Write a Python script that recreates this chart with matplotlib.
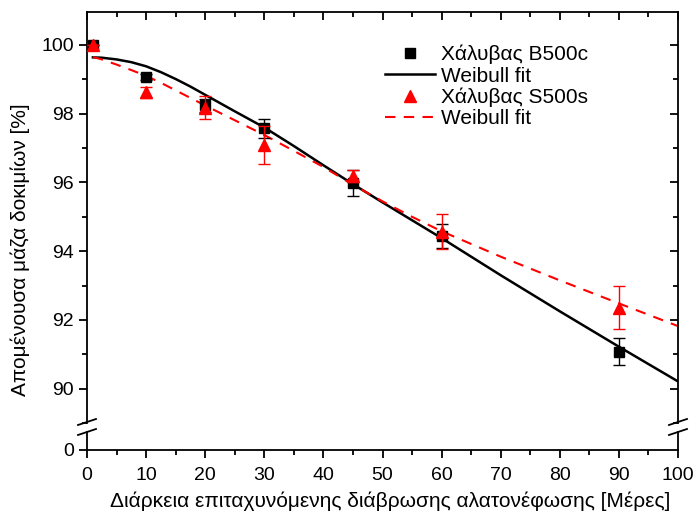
import matplotlib
matplotlib.use("Agg")
import matplotlib.pyplot as plt
from matplotlib.lines import Line2D
from matplotlib.ticker import MultipleLocator, FixedLocator

plt.rcParams['font.family'] = ['Liberation Sans', 'DejaVu Sans']

# ---- data ----
days = [1, 10, 20, 30, 45, 60, 90]
b500c = [100.0, 99.07, 98.24, 97.57, 95.98, 94.43, 91.08]
b500c_err = [0.0, 0.08, 0.2, 0.28, 0.38, 0.35, 0.39]
s500s = [100.0, 98.62, 98.18, 97.09, 96.18, 94.57, 92.36]
s500s_err = [0.0, 0.16, 0.34, 0.55, 0.18, 0.52, 0.63]

fit_x = [1, 2.5, 5, 7.5, 10, 12.5, 15, 17.5, 20, 25, 30, 35, 40, 45, 50, 55, 60, 70, 80, 90, 100]
fit_b500c = [99.64, 99.63, 99.58, 99.5, 99.38, 99.21, 99.01, 98.79, 98.55, 98.07, 97.6,
             97.06, 96.5, 95.95, 95.42, 94.9, 94.38, 93.3, 92.25, 91.22, 90.21]
fit_s500s = [99.65, 99.58, 99.43, 99.27, 99.1, 98.9, 98.68, 98.46, 98.24, 97.81, 97.38,
             96.92, 96.45, 95.93, 95.45, 95.0, 94.58, 93.84, 93.15, 92.48, 91.82]

x_ticks = [0, 10, 20, 30, 40, 50, 60, 70, 80, 90, 100]
y_ticks = [90, 92, 94, 96, 98, 100]

W, H = 693, 514
fig = plt.figure(figsize=(W / 100, H / 100), dpi=100)

L, R = 87 / W, 678 / W
top_px, ubot_px, ltop_px, lbot_px = 12, 423, 432, 450
ax = fig.add_axes([L, 1 - ubot_px / H, R - L, (ubot_px - top_px) / H])
axb = fig.add_axes([L, 1 - lbot_px / H, R - L, (lbot_px - ltop_px) / H])

lw_ax = 1.3
fs_tick = 14
for a in (ax, axb):
    for s in a.spines.values():
        s.set_linewidth(lw_ax)
    a.set_xlim(0, 100)
    a.patch.set_alpha(0)

ax.spines['bottom'].set_visible(False)
axb.spines['top'].set_visible(False)

# upper axes
ax.set_ylim(89.0, 100.96)
ax.yaxis.set_major_locator(FixedLocator(y_ticks))
ax.yaxis.set_minor_locator(MultipleLocator(1))
ax.xaxis.set_major_locator(FixedLocator(x_ticks))
ax.xaxis.set_minor_locator(MultipleLocator(5))
ax.tick_params(axis='x', which='both', bottom=False, labelbottom=False, top=True, direction='in')
ax.tick_params(axis='y', which='both', left=True, right=False, direction='out', labelsize=fs_tick)
ax.tick_params(axis='both', which='major', length=6, width=lw_ax)
ax.tick_params(axis='both', which='minor', length=3.5, width=lw_ax)

# right-side inward ticks via twin axis
axr = ax.twinx()
axr.set_ylim(ax.get_ylim())
axr.yaxis.set_major_locator(FixedLocator(y_ticks))
axr.yaxis.set_minor_locator(MultipleLocator(1))
axr.tick_params(axis='y', which='both', direction='in', labelright=False)
axr.tick_params(axis='y', which='major', length=6, width=lw_ax)
axr.tick_params(axis='y', which='minor', length=3.5, width=lw_ax)
for s in axr.spines.values():
    s.set_visible(False)

# lower axes
axb.set_ylim(0, 1)
axb.yaxis.set_major_locator(FixedLocator([0]))
axb.xaxis.set_major_locator(FixedLocator(x_ticks))
axb.xaxis.set_minor_locator(MultipleLocator(5))
axb.tick_params(axis='x', which='both', direction='out', labelsize=fs_tick, pad=6)
axb.tick_params(axis='y', which='both', direction='out', labelsize=fs_tick)
axb.tick_params(axis='both', which='major', length=6, width=lw_ax)
axb.tick_params(axis='both', which='minor', length=3.5, width=lw_ax)
axb.set_xticklabels([str(v) for v in x_ticks])

# data
ax.plot(fit_x, fit_b500c, color='black', lw=1.8, zorder=2)
ax.plot(fit_x, fit_s500s, color='red', lw=1.5, ls=(0, (5, 4)), zorder=2)
ax.errorbar(days, b500c, yerr=b500c_err, fmt='s', color='black', ms=7,
            ecolor='black', elinewidth=1, capsize=4, capthick=1, zorder=3)
ax.errorbar(days, s500s, yerr=s500s_err, fmt='^', color='red', ms=9,
            ecolor='red', elinewidth=1, capsize=4, capthick=1, zorder=4)

# legend
handles = [Line2D([], [], ls='none', marker='s', color='black', ms=7),
           Line2D([], [], color='black', lw=1.8),
           Line2D([], [], ls='none', marker='^', color='red', ms=9),
           Line2D([], [], color='red', lw=1.5, ls=(0, (5, 4)))]
labels = ['Χάλυβας B500c', 'Weibull fit', 'Χάλυβας S500s', 'Weibull fit']
fig.legend(handles, labels, loc='upper left', bbox_to_anchor=(385 / W, 1 - 45 / H),
           frameon=False, fontsize=15, handlelength=2.4, handletextpad=0.3,
           labelspacing=0.1, borderpad=0, borderaxespad=0)

# break marks
def brk(x0, y0, x1, y1):
    fig.add_artist(Line2D([x0 / W, x1 / W], [1 - y0 / H, 1 - y1 / H],
                          color='black', lw=lw_ax, transform=fig.transFigure))

for xc in (87, 678):
    brk(xc - 9, 425, xc + 9, 419)
    brk(xc - 9, 435, xc + 9, 429)

fig.text(20 / W, 1 - 250 / H, 'Απομένουσα μάζα δοκιμίων [%]', rotation=90,
         ha='center', va='center', fontsize=15)
fig.text(390 / W, 1 - 501 / H, 'Διάρκεια επιταχυνόμενης διάβρωσης αλατονέφωσης [Μέρες]',
         ha='center', va='center', fontsize=15)

fig.savefig('out.png', dpi=100)
